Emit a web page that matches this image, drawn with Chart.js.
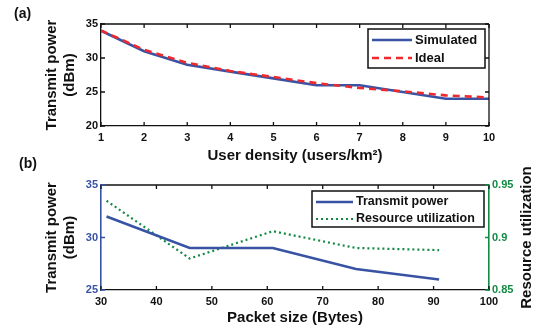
<!DOCTYPE html>
<html>
<head>
<meta charset="utf-8">
<script src="https://cdn.jsdelivr.net/npm/chart.js@4.4.1/dist/chart.umd.min.js"></script>
<style>
  body { margin: 0; background: #fff; }
  #wrap { position: relative; width: 537px; height: 329px; overflow: hidden; }
  canvas { position: absolute; left: 0; }
  .tag { position: absolute; font: bold 14px "Liberation Sans", Arial, sans-serif; color: #111; }
</style>
</head>
<body>
<div id="wrap">
  <canvas id="density-chart" width="537" height="165" style="top:0"></canvas>
  <canvas id="packet-chart" width="537" height="164" style="top:165px"></canvas>
  <div class="tag" style="left:14px;top:5px">(a)</div>
  <div class="tag" style="left:19px;top:155px">(b)</div>
</div>
<script>
// (a) transmit power vs user density
const densities = [1, 2, 3, 4, 5, 6, 7, 8, 9, 10];
const simulatedPower = [34, 31, 29, 28, 27, 26, 26, 25, 24, 24];
const idealPower = [34.05, 31.2, 29.3, 28.1, 27.2, 26.3, 25.6, 25.1, 24.5, 24.2];

// (b) transmit power / resource utilization vs packet size
const packetSizes = [31, 46, 61, 76, 91];
const transmitPower = [32, 29, 29, 27, 26];
const resourceUtil = [0.935, 0.880, 0.906, 0.890, 0.888];

const BLUE = '#3953a4', RED = '#ee2a2f', GREEN = '#138a43';
const FONT = '"Liberation Sans", Arial, sans-serif';
Chart.defaults.font.family = FONT;
Chart.defaults.color = '#111';

const pts = (xs, ys) => xs.map((x, i) => ({x: x, y: ys[i]}));

// matlab-like box with inward ticks + legend inside the axes
const frame = {
  id: 'frame',
  afterDatasetsDraw(chart, args, o) {
    const {ctx, chartArea: a, scales} = chart;
    ctx.save();
    ctx.lineWidth = 1.3;
    ctx.strokeStyle = '#111';
    ctx.beginPath();
    ctx.moveTo(a.left, a.top); ctx.lineTo(a.right, a.top);
    if (!scales.y1) { ctx.moveTo(a.right, a.top); ctx.lineTo(a.right, a.bottom); }
    ctx.stroke();
    const T = 4;
    ctx.beginPath();
    scales.x.ticks.forEach(t => {
      const px = scales.x.getPixelForValue(t.value);
      ctx.moveTo(px, a.bottom); ctx.lineTo(px, a.bottom - T);
      ctx.moveTo(px, a.top); ctx.lineTo(px, a.top + T);
    });
    if (!scales.y1) {
      scales.y.ticks.forEach(t => {
        const py = scales.y.getPixelForValue(t.value);
        ctx.moveTo(a.left, py); ctx.lineTo(a.left + T, py);
        ctx.moveTo(a.right, py); ctx.lineTo(a.right - T, py);
      });
    }
    ctx.stroke();
    if (scales.y1) {
      ctx.strokeStyle = o.leftColor;
      ctx.beginPath();
      scales.y.ticks.forEach(t => {
        const py = scales.y.getPixelForValue(t.value);
        ctx.moveTo(a.left, py); ctx.lineTo(a.left + T, py);
      });
      ctx.stroke();
      ctx.strokeStyle = o.rightColor;
      ctx.beginPath();
      scales.y1.ticks.forEach(t => {
        const py = scales.y1.getPixelForValue(t.value);
        ctx.moveTo(a.right, py); ctx.lineTo(a.right - T, py);
      });
      ctx.stroke();
    }
    // legend
    const L = o.legend;
    const bx = a.right - L.right - L.width, by = a.top + L.top;
    ctx.fillStyle = '#fff';
    ctx.fillRect(bx, by, L.width, L.height);
    ctx.strokeStyle = '#111';
    ctx.lineWidth = 1.5;
    ctx.strokeRect(bx, by, L.width, L.height);
    ctx.font = 'bold ' + L.size + 'px ' + FONT;
    ctx.textBaseline = 'middle';
    L.items.forEach((it, i) => {
      const ry = by + L.row0 + i * L.rowGap;
      ctx.strokeStyle = it.color;
      ctx.lineWidth = it.width;
      ctx.setLineDash(it.dash || []);
      ctx.beginPath();
      ctx.moveTo(bx + 4, ry); ctx.lineTo(bx + 4 + L.sample, ry);
      ctx.stroke();
      ctx.setLineDash([]);
      ctx.fillStyle = '#111';
      ctx.fillText(it.text, bx + L.sample + 7, ry);
    });
    if (o.rightTitle) {
      ctx.translate(527, (a.top + a.bottom) / 2);
      ctx.rotate(-Math.PI / 2);
      ctx.textAlign = 'center';
      ctx.font = 'bold 15px ' + FONT;
      ctx.fillText(o.rightTitle, 0, 0);
    }
    ctx.restore();
  }
};

const tickFont = {size: 11, weight: 'bold'};
const titleFont = {size: 15, weight: 'bold', lineHeight: 1.2};

new Chart(document.getElementById('density-chart'), {
  type: 'line',
  data: {
    datasets: [
      {label: 'Simulated', data: pts(densities, simulatedPower), borderColor: BLUE, borderWidth: 2.6, pointRadius: 0, order: 1},
      {label: 'Ideal', data: pts(densities, idealPower), borderColor: RED, borderWidth: 2.6, borderDash: [7, 5], pointRadius: 0, order: 0}
    ]
  },
  plugins: [frame],
  options: {
    responsive: false,
    animation: false,
    layout: {padding: {top: 24, right: 48, left: 0, bottom: 0}},
    plugins: {
      legend: {display: false},
      tooltip: {enabled: false},
      frame: {
        legend: {right: 4, top: 5, width: 117, height: 39, row0: 11, rowGap: 18, sample: 40, size: 13,
          items: [
            {text: 'Simulated', color: BLUE, width: 2.6},
            {text: 'Ideal', color: RED, width: 2.6, dash: [7, 5]}
          ]}
      }
    },
    scales: {
      x: {
        type: 'linear', min: 1, max: 10,
        ticks: {stepSize: 1, font: tickFont, padding: 5, color: '#111'},
        grid: {display: false, drawTicks: false},
        border: {display: true, color: '#111', width: 1.3},
        title: {display: true, text: 'User density (users/km²)', font: titleFont, color: '#111', padding: {top: 0, bottom: 0}},
        afterFit: s => { s.height = 39; }
      },
      y: {
        min: 20, max: 35,
        ticks: {stepSize: 5, font: tickFont, padding: 3, color: '#111'},
        grid: {display: false, drawTicks: false},
        border: {display: true, color: '#111', width: 1.3},
        title: {display: true, text: ['Transmit power', '(dBm)'], font: titleFont, color: '#111', padding: {top: 43, bottom: 0}},
        afterFit: s => { s.width = 101; }
      }
    }
  }
});

new Chart(document.getElementById('packet-chart'), {
  type: 'line',
  data: {
    datasets: [
      {label: 'Transmit power', data: pts(packetSizes, transmitPower), borderColor: BLUE, borderWidth: 2.6, pointRadius: 0, yAxisID: 'y'},
      {label: 'Resource utilization', data: pts(packetSizes, resourceUtil), borderColor: GREEN, borderWidth: 2.2, borderDash: [2, 3], pointRadius: 0, yAxisID: 'y1'}
    ]
  },
  plugins: [frame],
  options: {
    responsive: false,
    animation: false,
    layout: {padding: {top: 20, right: 0, left: 0, bottom: 0}},
    plugins: {
      legend: {display: false},
      tooltip: {enabled: false},
      frame: {
        leftColor: BLUE, rightColor: GREEN, rightTitle: 'Resource utilization',
        legend: {right: 5, top: 6, width: 172, height: 36, row0: 11, rowGap: 17, sample: 37, size: 12.5,
          items: [
            {text: 'Transmit power', color: BLUE, width: 2.6},
            {text: 'Resource utilization', color: GREEN, width: 2.2, dash: [2, 3]}
          ]}
      }
    },
    scales: {
      x: {
        type: 'linear', min: 30, max: 100,
        ticks: {stepSize: 10, font: tickFont, padding: 5, color: '#111'},
        grid: {display: false, drawTicks: false},
        border: {display: true, color: '#111', width: 1.3},
        title: {display: true, text: 'Packet size (Bytes)', font: titleFont, color: '#111', padding: {top: 0, bottom: 2}},
        afterFit: s => { s.height = 39; }
      },
      y: {
        position: 'left', min: 25, max: 35,
        ticks: {stepSize: 5, font: tickFont, padding: 3, color: BLUE},
        grid: {display: false, drawTicks: false},
        border: {display: true, color: BLUE, width: 1.6},
        title: {display: true, text: ['Transmit power', '(dBm)'], font: titleFont, color: '#111', padding: {top: 43, bottom: 0}},
        afterFit: s => { s.width = 101; }
      },
      y1: {
        position: 'right', min: 0.85, max: 0.95,
        ticks: {stepSize: 0.05, font: tickFont, padding: 3, color: GREEN,
          callback: v => String(Math.round(v * 100) / 100)},
        grid: {display: false, drawTicks: false},
        border: {display: true, color: GREEN, width: 1.6},
        afterFit: s => { s.width = 48; }
      }
    }
  }
});
</script>
</body>
</html>
